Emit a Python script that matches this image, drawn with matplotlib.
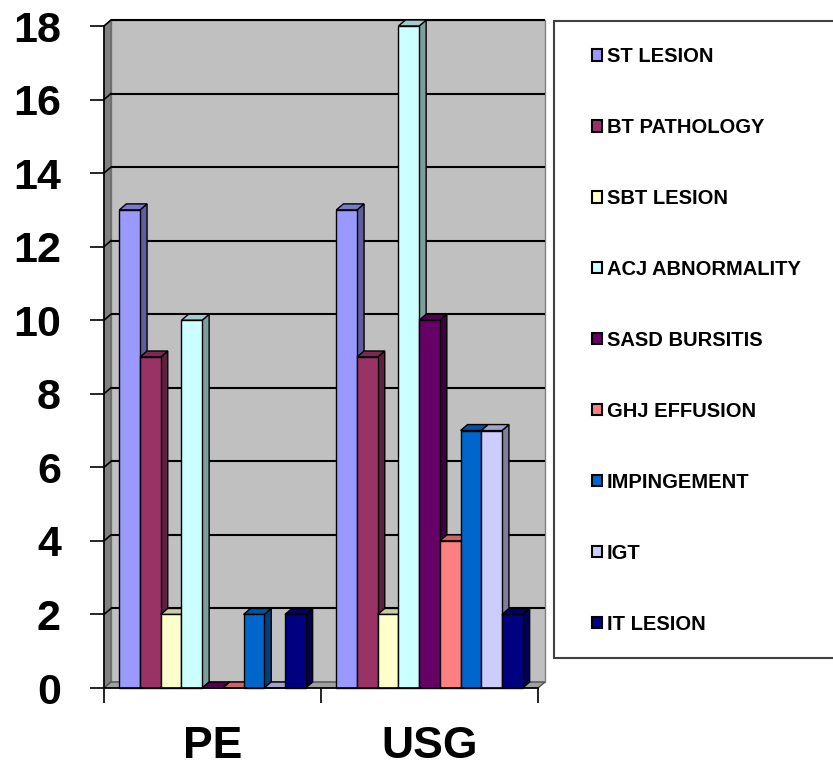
import matplotlib
matplotlib.use("Agg")
import matplotlib.pyplot as plt
from matplotlib.patches import Polygon, Rectangle, Patch
from matplotlib.colors import to_rgb
import numpy as np

# ---- data ----
groups = ["PE", "USG"]
series = ["ST LESION", "BT PATHOLOGY", "SBT LESION", "ACJ ABNORMALITY",
          "SASD BURSITIS", "GHJ EFFUSION", "IMPINGEMENT", "IGT", "IT LESION"]
pe_values = [13, 9, 2, 10, 0, 0, 2, 0, 2]
usg_values = [13, 9, 2, 18, 10, 4, 7, 7, 2]
colors = ["#9999FF", "#993366", "#FFFFCC", "#CCFFFF", "#660066",
          "#FF8080", "#0066CC", "#CCCCFF", "#000080"]
y_ticks = list(range(0, 19, 2))

values = [pe_values, usg_values]

plt.rcParams['font.family'] = ['Liberation Sans', 'DejaVu Sans']

W, H, DPI = 833, 767, 100
fig = plt.figure(figsize=(W / DPI, H / DPI), dpi=DPI)
ax = fig.add_axes([104 / W, (H - 688) / H, (538 - 104) / W, (688 - 26) / H])
ax.set_xlim(0, 2)
ax.set_ylim(0, 18)
ax.patch.set_visible(False)

# pixel -> data conversion for the depth offset
pos = ax.get_position()
wpx = pos.width * W
hpx = pos.height * H
ddx = 7 * 2 / wpx
ddy = 6 * 18 / hpx

def shade(c, f):
    r, g, b = to_rgb(c)
    return (r * f, g * f, b * f)

def poly(pts, fc, z, lw=1.0, ec="black"):
    p = Polygon(pts, closed=True, facecolor=fc, edgecolor=ec, linewidth=lw,
                zorder=z, clip_on=False, joinstyle="miter")
    ax.add_patch(p)

# walls
poly([(ddx, ddy), (2 + ddx, ddy), (2 + ddx, 18 + ddy), (ddx, 18 + ddy)], "#C0C0C0", 1, lw=1.0, ec="#808080")
poly([(0, 0), (ddx, ddy), (ddx, 18 + ddy), (0, 18)], "#808080", 1.1, lw=0.8, ec="#606060")
poly([(0, 0), (2, 0), (2 + ddx, ddy), (ddx, ddy)], "#A0A0A0", 1.2, lw=1.0, ec="#505050")
for t in y_ticks[1:]:
    ax.plot([ddx, 2 + ddx], [t + ddy, t + ddy], color="black", lw=1.5, zorder=1.5,
            clip_on=False, solid_capstyle="butt")
    ax.plot([0, ddx], [t, t + ddy], color="black", lw=1.2, zorder=1.5, clip_on=False)

# bars: side and top faces
bw = 20.7 / wpx * 2
z = 3
for gi, vals in enumerate(values):
    center = gi + 0.5
    for si, v in enumerate(vals):
        x0 = center + (si - 4) * bw - bw / 2
        x1 = x0 + bw
        c = colors[si]
        if v > 0:
            poly([(x1, 0), (x1 + ddx, ddy), (x1 + ddx, v + ddy), (x1, v)], shade(c, 0.62), z)
        poly([(x0, v), (x1, v), (x1 + ddx, v + ddy), (x0 + ddx, v + ddy)], shade(c, 0.8), z + 0.1)
        z += 0.3

# front faces (ordered so each front covers previous side)
z = 3
for gi, vals in enumerate(values):
    center = gi + 0.5
    for si, v in enumerate(vals):
        xc = center + (si - 4) * bw
        if v > 0:
            ax.bar([xc], [v], width=bw, color=colors[si], edgecolor="black",
                   linewidth=1.0, zorder=z + 0.2, clip_on=False)
        z += 0.3

# spines / ticks
for s in ["top", "right"]:
    ax.spines[s].set_visible(False)
for s in ["left", "bottom"]:
    ax.spines[s].set_color("black")
    ax.spines[s].set_linewidth(1.2)
    ax.spines[s].set_zorder(50)

ax.set_yticks(y_ticks)
ax.set_yticklabels([str(t) for t in y_ticks], fontsize=31, fontweight="bold")
ax.tick_params(axis="y", direction="out", length=10, width=1.2, pad=21)

ax.set_xticks([0, 1, 2])
ax.set_xticklabels(["", "", ""])
ax.tick_params(axis="x", which="major", direction="out", length=11, width=1.2)
ax.set_xticks([0.5, 1.5], minor=True)
ax.set_xticklabels(groups, minor=True, fontsize=32, fontweight="bold")
ax.tick_params(axis="x", which="minor", length=0, pad=27)

# legend box
fig.patches.append(Rectangle((554 / W, (H - 658) / H), (W - 554 + 10) / W, (658 - 21) / H,
                             transform=fig.transFigure, facecolor="white",
                             edgecolor="#404040", linewidth=1.5, zorder=0))
handles = [Patch(facecolor=c, edgecolor="black", linewidth=1.5) for c in colors]
fig.legend(handles, series, loc="upper left", bbox_to_anchor=(592 / W, 1 - 47 / H),
           frameon=False, prop={"weight": "bold", "size": 14.5},
           handlelength=0.5, handleheight=0.5, handletextpad=0.25,
           labelspacing=2.58, borderaxespad=0, borderpad=0)

fig.savefig("out.png", dpi=DPI)
